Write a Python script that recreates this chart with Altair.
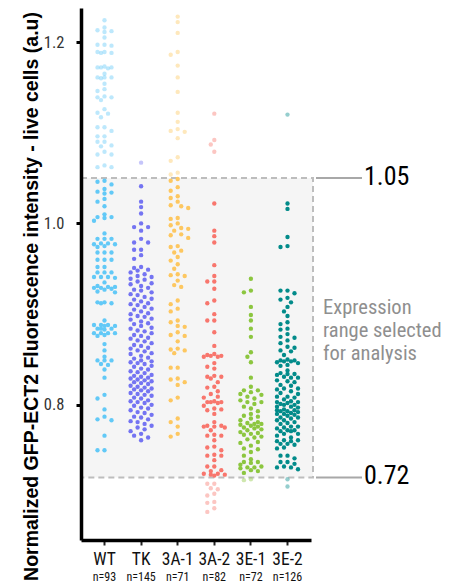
import math
import altair as alt
import pandas as pd

CATS = ["WT", "TK", "3A-1", "3A-2", "3E-1", "3E-2"]
N_LABELS = ["n=93", "n=145", "n=71", "n=82", "n=72", "n=126"]
COLORS = ["#62c9f7", "#7474f2", "#fdc760", "#f8766d", "#8cc63f", "#028b8a"]
LOW, HIGH = 0.72, 1.05
THRESH = [1.05, 0.72]
THRESH_LABELS = ["1.05", "0.72"]
NOTE = ["Expression", "range selected", "for analysis"]
TITLE = "Normalized GFP-ECT2 Fluorescence intensity - live cells (a.u)"

WT = [1.224, 1.216, 1.213, 1.212, 1.211, 1.205, 1.197, 1.197, 1.196, 1.189, 1.189, 1.188, 1.188,
      1.173, 1.172, 1.172, 1.172, 1.171, 1.165, 1.161, 1.161, 1.161, 1.160, 1.154, 1.148, 1.146,
      1.140, 1.139, 1.139, 1.136, 1.126, 1.122, 1.121, 1.117, 1.106, 1.106, 1.102, 1.096, 1.096,
      1.090, 1.090, 1.086, 1.085, 1.079, 1.076, 1.076, 1.064, 1.062, 1.062,
      1.047, 1.046, 1.043, 1.038, 1.035, 1.034, 1.033, 1.027, 1.024, 1.019, 1.010, 1.007, 1.007,
      1.006, 1.003, 0.989, 0.983, 0.983, 0.983, 0.978, 0.978, 0.977, 0.977, 0.975, 0.974, 0.968,
      0.968, 0.968, 0.960, 0.960, 0.960, 0.952, 0.952, 0.946, 0.946, 0.946, 0.941, 0.941, 0.941,
      0.940, 0.935, 0.931, 0.930, 0.929, 0.928, 0.927, 0.929, 0.930, 0.925, 0.924, 0.913, 0.913,
      0.912, 0.912, 0.893, 0.888, 0.888, 0.888, 0.887, 0.887, 0.884, 0.884, 0.884, 0.883, 0.879,
      0.879, 0.879, 0.879, 0.877, 0.876, 0.867, 0.860, 0.853, 0.849, 0.849, 0.849, 0.845, 0.844,
      0.839, 0.830, 0.811, 0.807, 0.795, 0.787, 0.784, 0.783, 0.766, 0.750, 0.750]

TK = [1.067, 1.041, 1.024, 1.018, 1.011, 1.000, 0.996, 0.996, 0.992, 0.983, 0.979, 0.979,
      0.971, 0.971, 0.965, 0.961,
      0.952, 0.951, 0.949, 0.948, 0.946, 0.944, 0.942, 0.941,
      0.939, 0.938, 0.936, 0.934, 0.933, 0.931,
      0.929, 0.927, 0.926, 0.924, 0.922, 0.921,
      0.919, 0.917, 0.916, 0.914, 0.912, 0.911, 0.910,
      0.908, 0.906, 0.905, 0.903, 0.901, 0.900,
      0.898, 0.897, 0.895, 0.894, 0.892, 0.890,
      0.889, 0.887, 0.885, 0.884, 0.882, 0.881,
      0.879, 0.877, 0.876, 0.874, 0.873, 0.871, 0.870,
      0.868, 0.866, 0.865, 0.863, 0.862, 0.860,
      0.859, 0.857, 0.856, 0.854, 0.852, 0.851,
      0.849, 0.848, 0.847, 0.846, 0.845, 0.843, 0.842, 0.840,
      0.839, 0.837, 0.836, 0.835, 0.833, 0.832, 0.831, 0.830,
      0.829, 0.828, 0.827, 0.826, 0.825, 0.824, 0.823, 0.821, 0.820,
      0.819, 0.818, 0.817, 0.816, 0.815, 0.813, 0.812, 0.811, 0.810,
      0.808, 0.807, 0.805, 0.804, 0.803, 0.802, 0.800,
      0.799, 0.797, 0.796, 0.794, 0.792, 0.791,
      0.789, 0.787, 0.786, 0.784, 0.782, 0.781,
      0.779, 0.777, 0.775, 0.773, 0.771,
      0.768, 0.766, 0.764, 0.761]

A31 = [1.228, 1.222, 1.210, 1.189, 1.186, 1.174, 1.161, 1.145, 1.122, 1.112, 1.104, 1.102,
       1.101, 1.094, 1.073, 1.069, 1.056, 1.054,
       1.049, 1.047, 1.040, 1.036, 1.030, 1.028, 1.024, 1.020, 1.019, 1.017,
       1.006, 1.005, 1.000, 0.998, 0.995, 0.994, 0.992, 0.988, 0.987, 0.984,
       0.975, 0.974, 0.970, 0.968, 0.963, 0.959, 0.955, 0.950, 0.944, 0.943, 0.942,
       0.937, 0.932, 0.930, 0.915, 0.911, 0.906, 0.903, 0.893, 0.891, 0.887, 0.886,
       0.880, 0.877, 0.876, 0.870, 0.862, 0.861, 0.860, 0.857,
       0.841, 0.841, 0.829, 0.828, 0.825, 0.822, 0.808, 0.805,
       0.785, 0.781, 0.776, 0.768, 0.765]

A32 = [1.121, 1.092, 1.087, 1.079,
       1.022, 0.992, 0.986, 0.979, 0.954, 0.942, 0.936, 0.936, 0.928, 0.915, 0.912, 0.900,
       0.893, 0.893, 0.880, 0.865,
       0.856, 0.855, 0.854, 0.854, 0.853, 0.853, 0.846, 0.842, 0.840,
       0.832, 0.831, 0.831, 0.829, 0.825, 0.820, 0.819, 0.815, 0.812, 0.809, 0.808,
       0.804, 0.803, 0.803, 0.803, 0.802, 0.799, 0.796, 0.795, 0.794, 0.790, 0.781,
       0.777, 0.777, 0.776, 0.776, 0.775, 0.772, 0.767, 0.766, 0.766, 0.761,
       0.754, 0.753, 0.750, 0.745, 0.744, 0.744, 0.739, 0.732, 0.732, 0.728, 0.727,
       0.724, 0.724, 0.723, 0.723, 0.722,
       0.713, 0.713, 0.708, 0.707, 0.702, 0.700, 0.693, 0.692, 0.686, 0.682]

E31 = [0.939, 0.926, 0.924, 0.908, 0.899, 0.893, 0.884, 0.875, 0.858, 0.853, 0.847, 0.830,
       0.820, 0.816, 0.816, 0.814, 0.812, 0.811, 0.809, 0.807, 0.805, 0.803, 0.803, 0.801,
       0.798, 0.796, 0.793, 0.790, 0.788, 0.787, 0.785, 0.783, 0.781, 0.780, 0.779, 0.779,
       0.778, 0.777, 0.776, 0.775, 0.774, 0.773, 0.772, 0.770, 0.769, 0.768, 0.767, 0.765,
       0.764, 0.762, 0.759, 0.758, 0.755, 0.752, 0.751, 0.748, 0.744, 0.740, 0.737, 0.737,
       0.736, 0.734, 0.732, 0.731, 0.731, 0.730, 0.728, 0.727, 0.725,
       0.718, 0.717]

E32 = [1.120, 1.022, 1.016, 0.985, 0.975, 0.974,
       0.926, 0.926, 0.923, 0.918, 0.916, 0.913, 0.908, 0.903, 0.898, 0.891, 0.889, 0.884,
       0.883, 0.878, 0.875, 0.874, 0.871, 0.868, 0.864, 0.863, 0.860, 0.859, 0.855,
       0.850, 0.849, 0.849, 0.848, 0.848, 0.847, 0.846, 0.844, 0.843, 0.838,
       0.835, 0.834, 0.834, 0.833, 0.831, 0.830, 0.830, 0.827, 0.826, 0.825, 0.822, 0.821,
       0.818, 0.818, 0.817, 0.815, 0.813, 0.812, 0.809, 0.809, 0.808, 0.806,
       0.804, 0.803, 0.803, 0.802, 0.801, 0.800, 0.800, 0.798, 0.798, 0.797,
       0.795, 0.794, 0.794, 0.793, 0.793, 0.792, 0.791, 0.790, 0.790, 0.789, 0.788,
       0.786, 0.786, 0.785, 0.783, 0.783, 0.781, 0.780, 0.779, 0.776, 0.776, 0.775, 0.774,
       0.772, 0.772, 0.771, 0.771, 0.768, 0.768, 0.766, 0.764, 0.761, 0.761, 0.760, 0.760,
       0.757, 0.757, 0.756, 0.753, 0.752, 0.744, 0.744, 0.741, 0.737, 0.737, 0.735,
       0.732, 0.731, 0.731, 0.729, 0.718, 0.710]

SERIES = [WT, TK, A31, A32, E31, E32]

# ---- layout -------------------------------------------------------------
W, H = 230, 532
Y_DOMAIN = [0.651, 1.2375]
PAD_OUT = 0.142
STEP = W / (len(CATS) + 2 * PAD_OUT)
PX = H / (Y_DOMAIN[1] - Y_DOMAIN[0])
FONT = "Roboto Condensed, Liberation Sans, Arial, sans-serif"
TFONT = "Liberation Sans, Arial, sans-serif"


def swarm(vals, d=5.2, step=3.5, maxk=3):
    """Beeswarm x-offsets (pixels) so that dots do not overlap."""
    cands = [0.0] + [s * k * step for k in range(1, maxk + 1) for s in (-1, 1)]
    placed = []
    res = [0.0] * len(vals)
    for i in sorted(range(len(vals)), key=lambda j: -vals[j]):
        y = vals[i] * PX
        best, bestd = 0.0, -1.0
        for c in cands:
            near = [math.hypot(c - px, y - py) for px, py in placed if abs(y - py) < d]
            md = min(near) if near else 99.0
            if md >= d:
                best = c
                break
            if md > bestd:
                bestd, best = md, c
        res[i] = best
        placed.append((best, y))
    return res


rows = []
for cat, vals in zip(CATS, SERIES):
    for v, o in zip(vals, swarm(vals)):
        rows.append({"cat": cat, "value": v, "off": o,
                     "zone": "in" if LOW <= v <= HIGH else "out"})
df = pd.DataFrame(rows)

XS = alt.Scale(domain=CATS, paddingInner=0, paddingOuter=PAD_OUT)
YS = alt.Scale(domain=Y_DOMAIN, nice=False, zero=False)
XAXIS = alt.Axis(title=None, labelAngle=0, labelFont=FONT, labelFontSize=17.5,
                 labelColor="#111", labelPadding=5, tickSize=5, tickWidth=2,
                 tickColor="#222", domainColor="#000", domainWidth=3.5, grid=False, zindex=1)
YAXIS = alt.Axis(title=TITLE, values=[0.8, 1.0, 1.2], format=".1f",
                 titleFont=TFONT, titleFontSize=19.5, titleFontWeight="bold", titleColor="#000",
                 titleAngle=270, titleX=-40, titleY=288, titleAlign="center",
                 titleBaseline="bottom",
                 labelFont=FONT, labelFontSize=16.5, labelColor="#333", labelPadding=12,
                 tickSize=5, tickWidth=3, tickColor="#000", domainColor="#000",
                 domainWidth=3.5, grid=False, zindex=1)

rect = alt.Chart(pd.DataFrame({"lo": [LOW], "hi": [HIGH]})).mark_rect(
    fill="#f5f5f5", stroke="#bdbdbd", strokeDash=[6, 4], strokeWidth=2
).encode(
    y=alt.Y("lo:Q", scale=YS, axis=YAXIS),
    y2="hi:Q",
    x=alt.value(0),
    x2=alt.value(232),
)

points = alt.Chart(df).mark_circle(size=19).encode(
    x=alt.X("cat:N", scale=XS, axis=XAXIS, sort=CATS),
    xOffset=alt.XOffset("off:Q", scale=alt.Scale(domain=[-STEP / 2, STEP / 2], nice=False, zero=False)),
    y=alt.Y("value:Q", scale=YS, axis=YAXIS),
    color=alt.Color("cat:N", scale=alt.Scale(domain=CATS, range=COLORS), legend=None),
    opacity=alt.Opacity("zone:N", scale=alt.Scale(domain=["in", "out"], range=[1.0, 0.42]), legend=None),
)

tdf = pd.DataFrame({"v": THRESH, "lab": THRESH_LABELS})
rules = alt.Chart(tdf).mark_rule(color="#a8a8a8", strokeWidth=2).encode(
    y=alt.Y("v:Q", scale=YS, axis=YAXIS),
    x=alt.value(235),
    x2=alt.value(281),
)
tlabels = alt.Chart(tdf).mark_text(
    align="left", baseline="alphabetic", dy=6.5, dx=2, font=FONT, fontSize=26, color="#000"
).encode(
    y=alt.Y("v:Q", scale=YS, axis=YAXIS),
    x=alt.value(281),
    text="lab:N",
)

note = alt.Chart(pd.DataFrame({"t": [0]})).mark_text(
    text=NOTE, align="left", baseline="middle", font=FONT, fontSize=20.5,
    lineHeight=23, color="#8f8f8f"
).encode(x=alt.value(242), y=alt.value(300))

nlab = alt.Chart(pd.DataFrame({"cat": CATS, "n": N_LABELS})).mark_text(
    font=FONT, fontSize=12, baseline="middle", color="#111"
).encode(
    x=alt.X("cat:N", scale=XS, axis=XAXIS, sort=CATS),
    y=alt.value(H + 37),
    text="n:N",
)

chart = alt.layer(rect, points, rules, tlabels, note, nlab).properties(
    width=W, height=H,
    autosize=alt.AutoSizeParams(type="none"),
    padding={"left": 81, "top": 8, "right": 149, "bottom": 48},
    background="#ffffff",
).configure_view(strokeWidth=0)

chart.save("out.html", embed_options={"renderer": "svg", "actions": False})
